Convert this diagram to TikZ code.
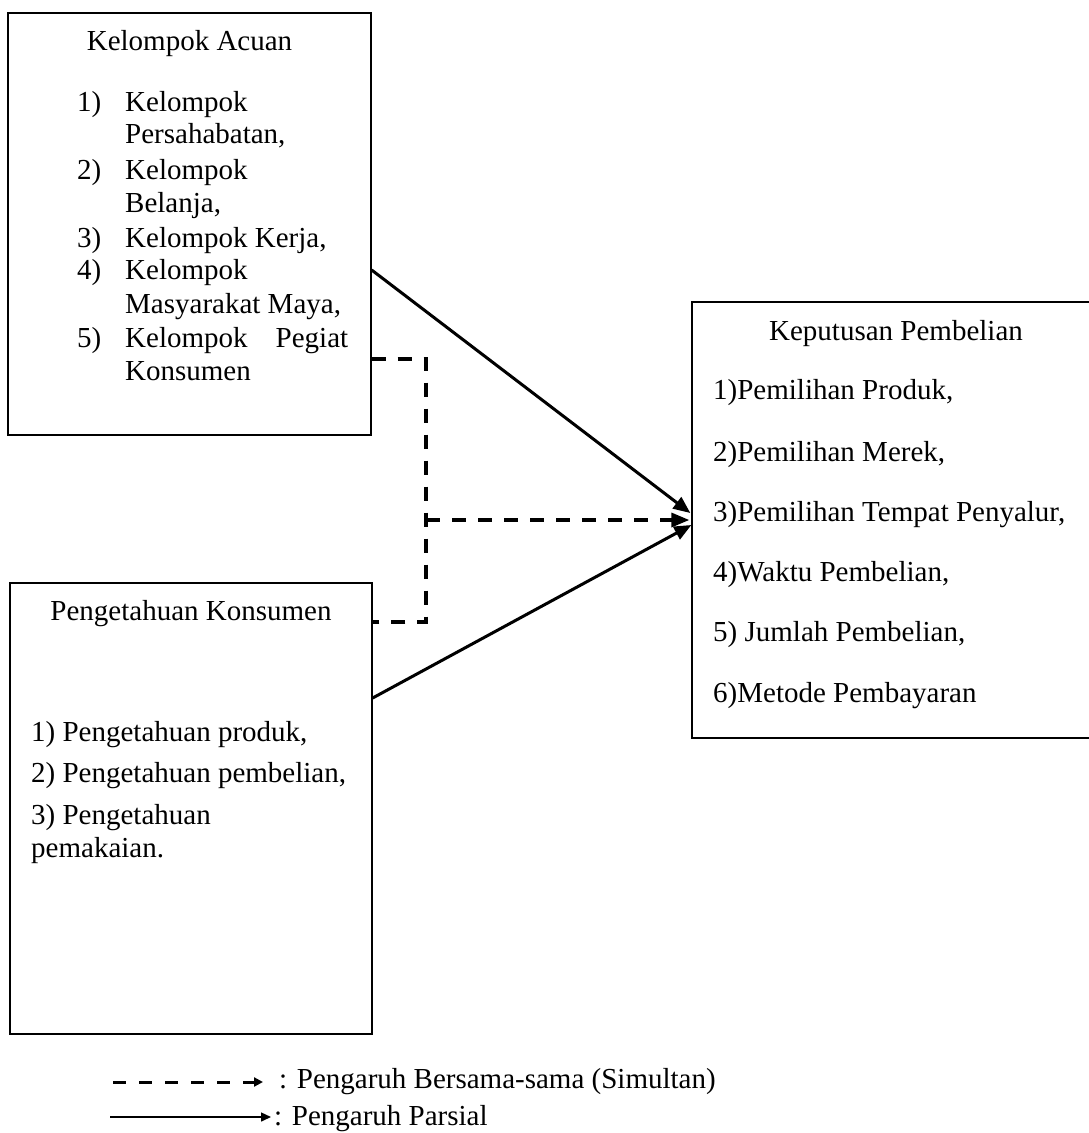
\documentclass[tikz,border=0pt]{standalone}
\usepackage{fontspec}
\setmainfont{Liberation Serif}
\usetikzlibrary{arrows.meta,calc}
\begin{document}
\begin{tikzpicture}[x=1pt,y=-1pt,
  box/.style={draw,line width=1.3pt,inner sep=0,minimum width=#1},
  txt/.style={anchor=base west,inner sep=0},
  hdr/.style={anchor=base,inner sep=0},
  partial/.style={line width=3pt,-{Triangle[length=17pt,width=14pt]}},
  simul/.style={line width=3.3pt,dash pattern=on 14pt off 12pt},
  font=\fontsize{29}{33.5}\selectfont]
\useasboundingbox (0,0) rectangle (1088,1133);
% boxes
\node[box=363pt,minimum height=422pt] (boxA) at (189.5,224) {};
\node[box=362pt,minimum height=451pt] (boxB) at (191,808.5) {};
\node[box=408pt,minimum height=436pt] (boxC) at (896,520) {};
% box A text
\node[hdr] (hA) at (189.5,50) {Kelompok Acuan};
\node[txt] (a1) at (77,111) {1)};
\node[txt] (a1t) at (125,111) {Kelompok};
\node[txt] (a1u) at (125,143) {Persahabatan,};
\node[txt] (a2) at (77,179) {2)};
\node[txt] (a2t) at (125,179) {Kelompok};
\node[txt] (a2u) at (125,212) {Belanja,};
\node[txt] (a3) at (77,247) {3)};
\node[txt] (a3t) at (125,247) {Kelompok Kerja,};
\node[txt] (a4) at (77,279) {4)};
\node[txt] (a4t) at (125,279) {Kelompok};
\node[txt] (a4u) at (125,313) {Masyarakat Maya,};
\node[txt] (a5) at (77,347) {5)};
\node[txt] (a5t) at (125,347) {\makebox[223pt][l]{Kelompok\hfill Pegiat}};
\node[txt] (a5u) at (125,380) {Konsumen};
% box B text
\node[hdr] (hB) at (191,620) {Pengetahuan Konsumen};
\node[txt] (b1) at (31,741) {1) Pengetahuan produk,};
\node[txt] (b2) at (31,782) {2) Pengetahuan pembelian,};
\node[txt] (b3) at (31,824) {3) Pengetahuan};
\node[txt] (b3u) at (31,857) {pemakaian.};
% box C text
\node[hdr] (hC) at (896,340) {Keputusan Pembelian};
\node[txt] (c1) at (713,399) {1)Pemilihan Produk,};
\node[txt] (c2) at (713,461) {2)Pemilihan Merek,};
\node[txt] (c3) at (713,521) {3)Pemilihan Tempat Penyalur,};
\node[txt] (c4) at (713,581) {4)Waktu Pembelian,};
\node[txt] (c5) at (713,641) {5) Jumlah Pembelian,};
\node[txt] (c6) at (713,702) {6)Metode Pembayaran};
% connectors
\coordinate (j1) at (426,359);
\coordinate (j2) at (426,622);
\coordinate (jm) at (426,520);
\draw[partial] ($(boxA.east)+(0,46)$) -- ($(boxC.west)+(-1,-7)$);
\draw[partial] ($(boxB.east)+(0,-110.5)$) -- ($(boxC.west)+(0,5)$);
\draw[simul] ($(boxA.east)+(0,135)$) -- (j1) -- (j2) -- ($(boxB.east)+(0,-186.5)$);
\draw[simul,-{Triangle[length=18pt,width=14pt]}] (jm) -- ($(boxC.west)+(-2,0)$);
% legend
\coordinate (l1s) at (113,1082);
\coordinate (l1e) at (263,1082);
\coordinate (l2s) at (110,1117);
\coordinate (l2e) at (271,1117);
\draw[line width=3pt,dash pattern=on 13pt off 13pt,-{Triangle[length=9pt,width=9pt]}] (l1s) -- (l1e);
\draw[line width=1.5pt,-{Triangle[length=10pt,width=9pt]}] (l2s) -- (l2e);
\node[txt] (leg1) at (279,1088) {: Pengaruh Bersama-sama (Simultan)};
\node[txt] (leg2) at (274,1125) {: Pengaruh Parsial};
\end{tikzpicture}
\end{document}
